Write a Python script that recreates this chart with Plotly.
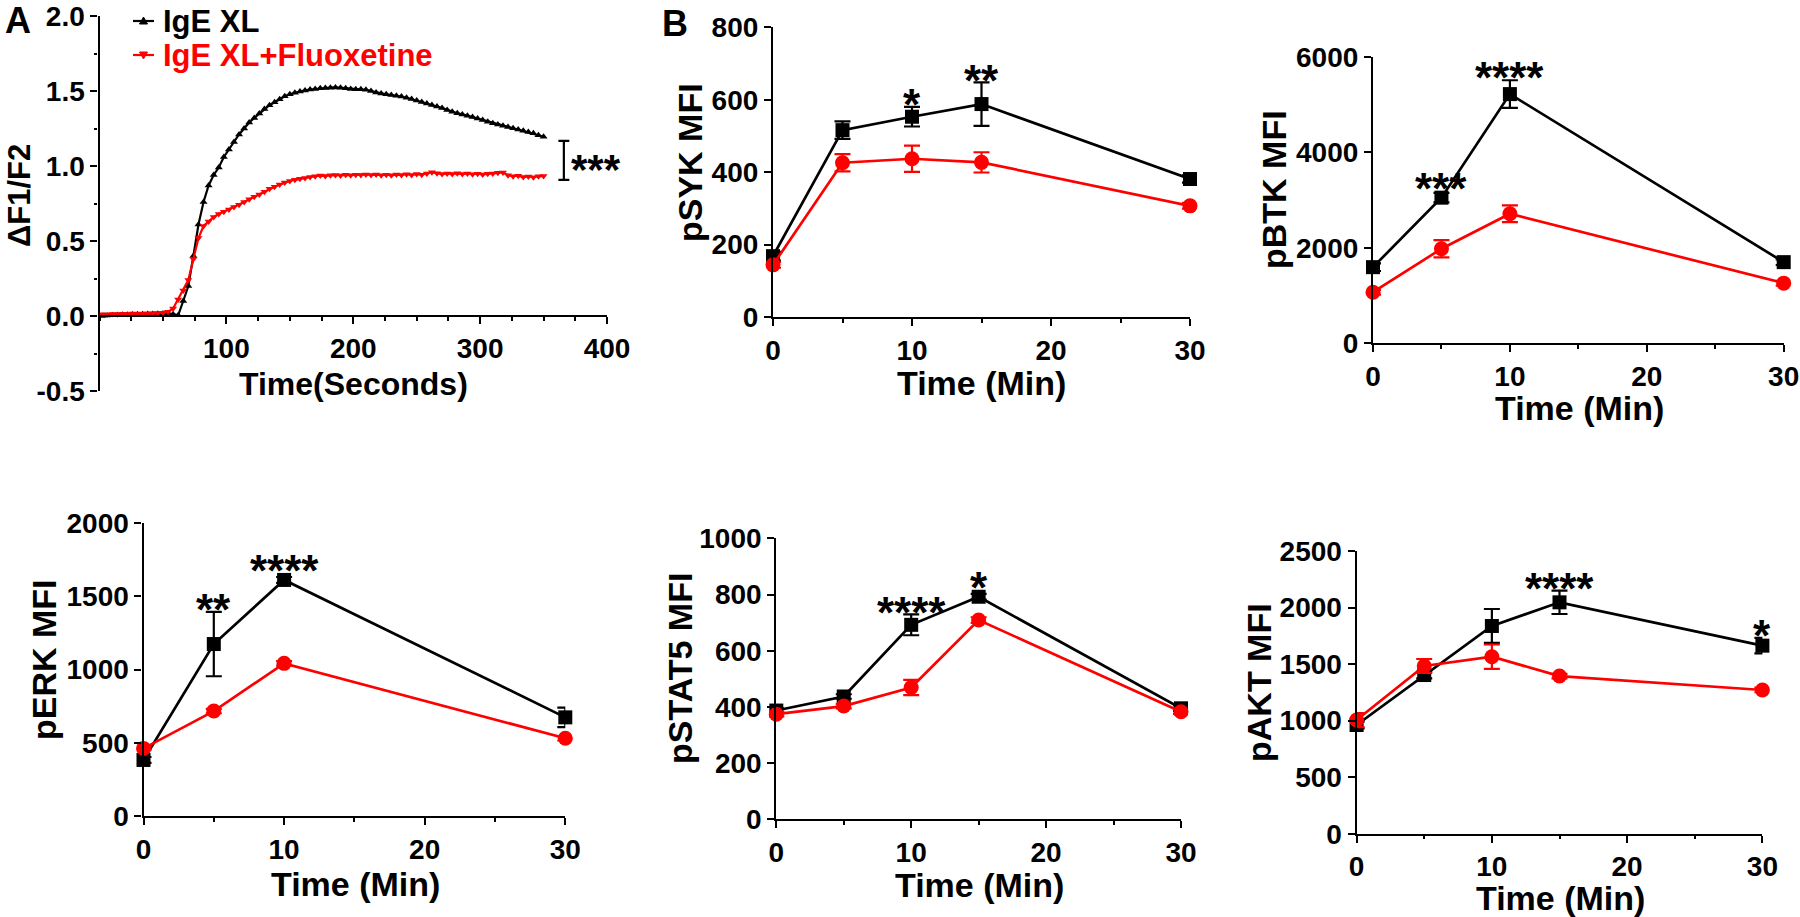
import plotly.graph_objects as go

W, H = 1800, 917
FONT = "Liberation Sans, Arial, sans-serif"
BLACK = "#000000"
RED = "#FF0000"

# ---------------- Panel A: calcium flux (ΔF1/F2 vs time, seconds) ----------------
ca_time = list(range(2, 354, 4))
ca_ige = [0.000, 0.003, 0.005, 0.006, 0.008, 0.009, 0.010, 0.011, 0.012, 0.013,
          0.014, 0.015, 0.017, 0.018, 0.012, 0.005, 0.100, 0.200, 0.400, 0.610,
          0.760, 0.870, 0.940, 0.990, 1.060, 1.110, 1.160, 1.210, 1.250, 1.290,
          1.320, 1.350, 1.380, 1.405, 1.425, 1.445, 1.465, 1.478, 1.488, 1.497,
          1.504, 1.510, 1.514, 1.518, 1.520, 1.522, 1.524, 1.522, 1.518, 1.514,
          1.512, 1.512, 1.508, 1.500, 1.490, 1.484, 1.478, 1.474, 1.468, 1.463,
          1.455, 1.446, 1.436, 1.426, 1.416, 1.406, 1.396, 1.386, 1.374, 1.362,
          1.352, 1.344, 1.335, 1.326, 1.316, 1.306, 1.295, 1.285, 1.276, 1.268,
          1.260, 1.252, 1.244, 1.235, 1.226, 1.218, 1.205, 1.195]
ca_flx = [0.012, 0.010, 0.014, 0.012, 0.015, 0.013, 0.016, 0.015, 0.017, 0.016,
          0.018, 0.020, 0.022, 0.028, 0.050, 0.110, 0.170, 0.240, 0.380, 0.520,
          0.600, 0.630, 0.660, 0.680, 0.695, 0.710, 0.727, 0.742, 0.760, 0.778,
          0.795, 0.810, 0.828, 0.848, 0.862, 0.876, 0.890, 0.900, 0.908, 0.915,
          0.920, 0.926, 0.932, 0.936, 0.934, 0.938, 0.940, 0.937, 0.941, 0.939,
          0.942, 0.940, 0.944, 0.940, 0.943, 0.939, 0.942, 0.938, 0.943, 0.940,
          0.945, 0.940, 0.946, 0.942, 0.950, 0.958, 0.952, 0.946, 0.950, 0.947,
          0.951, 0.946, 0.950, 0.945, 0.949, 0.944, 0.948, 0.950, 0.955, 0.957,
          0.938, 0.932, 0.935, 0.926, 0.930, 0.925, 0.932, 0.933]
assert len(ca_time) == len(ca_ige) == len(ca_flx)
ca_yticks = [-0.5, 0.0, 0.5, 1.0, 1.5, 2.0]
ca_xticks = [100, 200, 300, 400]

legend_names = ["IgE XL", "IgE XL+Fluoxetine"]

# ---------------- Panel B: phospho-flow MFI vs time (min) ----------------
t5 = [0, 5, 10, 15, 30]
t4 = [0, 5, 10, 30]
time_ticks = [0, 10, 20, 30]

psyk_ige = [168, 516, 553, 588, 381]
psyk_ige_err = [12, 24, 27, 60, 10]
psyk_flx = [144, 426, 437, 427, 307]
psyk_flx_err = [8, 24, 36, 28, 8]
psyk_stars = [(10, "*"), (15, "**")]

pbtk_ige = [1594, 3049, 5217, 1699]
pbtk_ige_err = [80, 100, 290, 60]
pbtk_flx = [1070, 1979, 2713, 1259]
pbtk_flx_err = [50, 180, 175, 50]
pbtk_stars = [(5, "***"), (10, "****")]

perk_ige = [383, 1175, 1613, 674]
perk_ige_err = [20, 220, 20, 67]
perk_flx = [462, 717, 1043, 531]
perk_flx_err = [10, 15, 15, 15]
perk_stars = [(5, "**"), (10, "****")]

pstat5_ige = [387, 437, 692, 792, 395]
pstat5_ige_err = [8, 8, 37, 10, 10]
pstat5_flx = [374, 403, 469, 709, 383]
pstat5_flx_err = [8, 8, 27, 10, 8]
pstat5_stars = [(10, "****"), (15, "*")]

pakt_ige = [961, 1403, 1837, 2046, 1663]
pakt_ige_err = [30, 30, 150, 103, 69]
pakt_flx = [1005, 1483, 1565, 1394, 1271]
pakt_flx_err = [62, 62, 108, 20, 20]
pakt_stars = [(15, "****"), (30, "*")]


def px(xp):
    return xp / W


def py(yp):
    return 1 - yp / H


LW = 2.2
axis_font = dict(family=FONT, size=28, color=BLACK, weight="bold")
common = dict(showline=True, linecolor=BLACK, linewidth=LW, ticks="outside",
              ticklen=7, tickwidth=LW, tickcolor=BLACK, showgrid=False,
              zeroline=False, tickfont=axis_font, fixedrange=True, automargin=False)
minor_common = dict(ticks="outside", ticklen=3.5, tickwidth=LW, tickcolor=BLACK)

fig = go.Figure()
layout = dict(width=W, height=H, margin=dict(l=0, r=0, t=0, b=0, autoexpand=False),
              paper_bgcolor="white", plot_bgcolor="white", showlegend=False,
              font=dict(family=FONT, color=BLACK, weight="bold"),
              annotations=[], shapes=[])

# ---------- Panel A ----------
a_dom_x = [px(99.5), px(607)]
a_dom_y = [py(391), py(16)]
a_yrange = [-0.5, 2.0]
a_xpos = a_dom_y[0] + (0 - a_yrange[0]) / (a_yrange[1] - a_yrange[0]) * (a_dom_y[1] - a_dom_y[0])
layout["xaxis"] = dict(common, domain=a_dom_x, range=[0, 400], anchor="free", position=a_xpos,
                       tickvals=ca_xticks,
                       minor=dict(minor_common, dtick=25, tick0=0))
layout["yaxis"] = dict(common, domain=a_dom_y, range=a_yrange, anchor="x",
                       tickvals=ca_yticks, ticktext=[f"{v:.1f}" for v in ca_yticks],
                       minor=dict(minor_common, dtick=0.25, tick0=0))

fig.add_trace(go.Scatter(x=ca_time, y=ca_ige, mode="lines+markers", name=legend_names[0],
                         line=dict(color=BLACK, width=2.2),
                         marker=dict(symbol="triangle-up", size=7, color=BLACK),
                         xaxis="x", yaxis="y", cliponaxis=False))
fig.add_trace(go.Scatter(x=ca_time, y=ca_flx, mode="lines+markers", name=legend_names[1],
                         line=dict(color=RED, width=2.2),
                         marker=dict(symbol="triangle-down", size=7, color=RED),
                         xaxis="x", yaxis="y", cliponaxis=False))

# legend (drawn as text + small symbols, positioned like the original)
leg_font = 31
for name, color, yc, up in [(legend_names[0], BLACK, 21, True), (legend_names[1], RED, 55, False)]:
    layout["shapes"].append(dict(type="line", xref="paper", yref="paper",
                                 x0=px(133), x1=px(154), y0=py(yc), y1=py(yc),
                                 line=dict(color=color, width=2.2)))
    cx = 143.5
    if up:
        tri = [(cx - 4, yc + 3), (cx + 4, yc + 3), (cx, yc - 4)]
    else:
        tri = [(cx - 4, yc - 3), (cx + 4, yc - 3), (cx, yc + 4)]
    path = "M {} {} L {} {} L {} {} Z".format(*[v for (a, b) in tri for v in (px(a), py(b))])
    layout["shapes"].append(dict(type="path", xref="paper", yref="paper", path=path,
                                 fillcolor=color, line=dict(color=color, width=1)))
    layout["annotations"].append(dict(x=px(161), y=py(yc), xref="paper", yref="paper",
                                      text=name, showarrow=False, xanchor="left", yanchor="middle",
                                      font=dict(family=FONT, size=leg_font, color=color, weight="bold")))

# significance bracket at end of traces
br_x = 366
br_cap = 4.3
br_top = ca_ige[-1] - 0.027
br_bot = ca_flx[-1] - 0.026
for (x0, y0, x1, y1) in [(br_x, br_bot, br_x, br_top),
                         (br_x - br_cap, br_top, br_x + br_cap, br_top),
                         (br_x - br_cap, br_bot, br_x + br_cap, br_bot)]:
    layout["shapes"].append(dict(type="line", xref="x", yref="y", x0=x0, y0=y0, x1=x1, y1=y1,
                                 line=dict(color=BLACK, width=LW)))
layout["annotations"].append(dict(x=br_x + 4, y=(br_top + br_bot) / 2, xref="x", yref="y",
                                  text="***", showarrow=False, xanchor="left", yanchor="middle",
                                  yshift=-9, font=dict(family=FONT, size=42, color=BLACK, weight="bold")))

# ---------- Panel B (MFI panels) ----------
panels = [
    dict(n=2, t=t5, ige=psyk_ige, ige_err=psyk_ige_err, flx=psyk_flx, flx_err=psyk_flx_err,
         stars=psyk_stars, yr=800, dtick=200, box=(773, 1190, 317, 27.3), title="pSYK MFI",
         ytitle=(690, 163), xtitle=(981, 383)),
    dict(n=3, t=t4, ige=pbtk_ige, ige_err=pbtk_ige_err, flx=pbtk_flx, flx_err=pbtk_flx_err,
         stars=pbtk_stars, yr=6000, dtick=2000, box=(1373, 1783.7, 343.3, 56.7), title="pBTK MFI",
         ytitle=(1274, 190), xtitle=(1579, 408)),
    dict(n=4, t=t4, ige=perk_ige, ige_err=perk_ige_err, flx=perk_flx, flx_err=perk_flx_err,
         stars=perk_stars, yr=2000, dtick=500, box=(143.5, 565.3, 816, 523.3), title="pERK MFI",
         ytitle=(44, 660), xtitle=(355, 884)),
    dict(n=5, t=t5, ige=pstat5_ige, ige_err=pstat5_ige_err, flx=pstat5_flx, flx_err=pstat5_flx_err,
         stars=pstat5_stars, yr=1000, dtick=200, box=(776.3, 1181, 819.3, 538.3), title="pSTAT5 MFI",
         ytitle=(680, 669), xtitle=(979, 885)),
    dict(n=6, t=t5, ige=pakt_ige, ige_err=pakt_ige_err, flx=pakt_flx, flx_err=pakt_flx_err,
         stars=pakt_stars, yr=2500, dtick=500, box=(1356.6, 1762.4, 833.7, 551), title="pAKT MFI",
         ytitle=(1259, 683), xtitle=(1560, 898)),
]

title_font = dict(family=FONT, size=34, color=BLACK, weight="bold")
STAR_SIZE = 44
star_font = dict(family=FONT, size=STAR_SIZE, color=BLACK, weight="bold")
MARKER_HALF = 7

for p in panels:
    n = p["n"]
    x0p, x1p, yb, yt = p["box"]
    layout[f"xaxis{n}"] = dict(common, domain=[px(x0p), px(x1p)], range=[0, 30], anchor=f"y{n}",
                               tickvals=time_ticks,
                               minor=dict(minor_common, dtick=5, tick0=0))
    layout[f"yaxis{n}"] = dict(common, domain=[py(yb), py(yt)], range=[0, p["yr"]], anchor=f"x{n}",
                               dtick=p["dtick"], tick0=0)
    fig.add_trace(go.Scatter(x=p["t"], y=p["ige"], mode="lines+markers", name=legend_names[0],
                             line=dict(color=BLACK, width=2.7),
                             marker=dict(symbol="square", size=14, color=BLACK),
                             error_y=dict(type="data", array=p["ige_err"], visible=True,
                                          color=BLACK, thickness=2.2, width=8),
                             xaxis=f"x{n}", yaxis=f"y{n}", cliponaxis=False))
    fig.add_trace(go.Scatter(x=p["t"], y=p["flx"], mode="lines+markers", name=legend_names[1],
                             line=dict(color=RED, width=2.7),
                             marker=dict(symbol="circle", size=15, color=RED),
                             error_y=dict(type="data", array=p["flx_err"], visible=True,
                                          color=RED, thickness=2.2, width=8),
                             xaxis=f"x{n}", yaxis=f"y{n}", cliponaxis=False))
    # significance stars above the IgE XL points
    scale = (yb - yt) / p["yr"]
    for (ts, lab) in p["stars"]:
        i = p["t"].index(ts)
        top_px = max(p["ige_err"][i] * scale, MARKER_HALF)
        layout["annotations"].append(dict(x=ts, y=p["ige"][i], xref=f"x{n}", yref=f"y{n}",
                                          text=lab, showarrow=False, xanchor="center",
                                          yanchor="middle", yshift=top_px + 12 - 0.22 * STAR_SIZE,
                                          font=star_font))
    # axis titles
    tx, ty = p["ytitle"]
    layout["annotations"].append(dict(x=px(tx), y=py(ty), xref="paper", yref="paper",
                                      text=p["title"], textangle=-90, showarrow=False,
                                      xanchor="center", yanchor="middle", font=title_font))
    tx, ty = p["xtitle"]
    layout["annotations"].append(dict(x=px(tx), y=py(ty), xref="paper", yref="paper",
                                      text="Time (Min)", showarrow=False,
                                      xanchor="center", yanchor="middle", font=title_font))

# Panel A axis titles
layout["annotations"].append(dict(x=px(19), y=py(196), xref="paper", yref="paper",
                                  text="ΔF1/F2", textangle=-90, showarrow=False,
                                  xanchor="center", yanchor="middle",
                                  font=dict(family=FONT, size=31, color=BLACK, weight="bold")))
layout["annotations"].append(dict(x=px(353), y=py(384), xref="paper", yref="paper",
                                  text="Time(Seconds)", showarrow=False,
                                  xanchor="center", yanchor="middle",
                                  font=dict(family=FONT, size=32, color=BLACK, weight="bold")))

# Panel letters
letter_font = dict(family=FONT, size=36, color=BLACK, weight="bold")
layout["annotations"].append(dict(x=px(3), y=py(20), xref="paper", yref="paper", text="A",
                                  showarrow=False, xanchor="left", yanchor="middle", font=letter_font))
layout["annotations"].append(dict(x=px(660), y=py(24), xref="paper", yref="paper", text="B",
                                  showarrow=False, xanchor="left", yanchor="middle", font=letter_font))

fig.update_layout(**layout)
fig.write_html("out.html",
               config={"displayModeBar": False},
               post_script="document.body.style.margin='0';document.body.style.overflow='hidden';")
